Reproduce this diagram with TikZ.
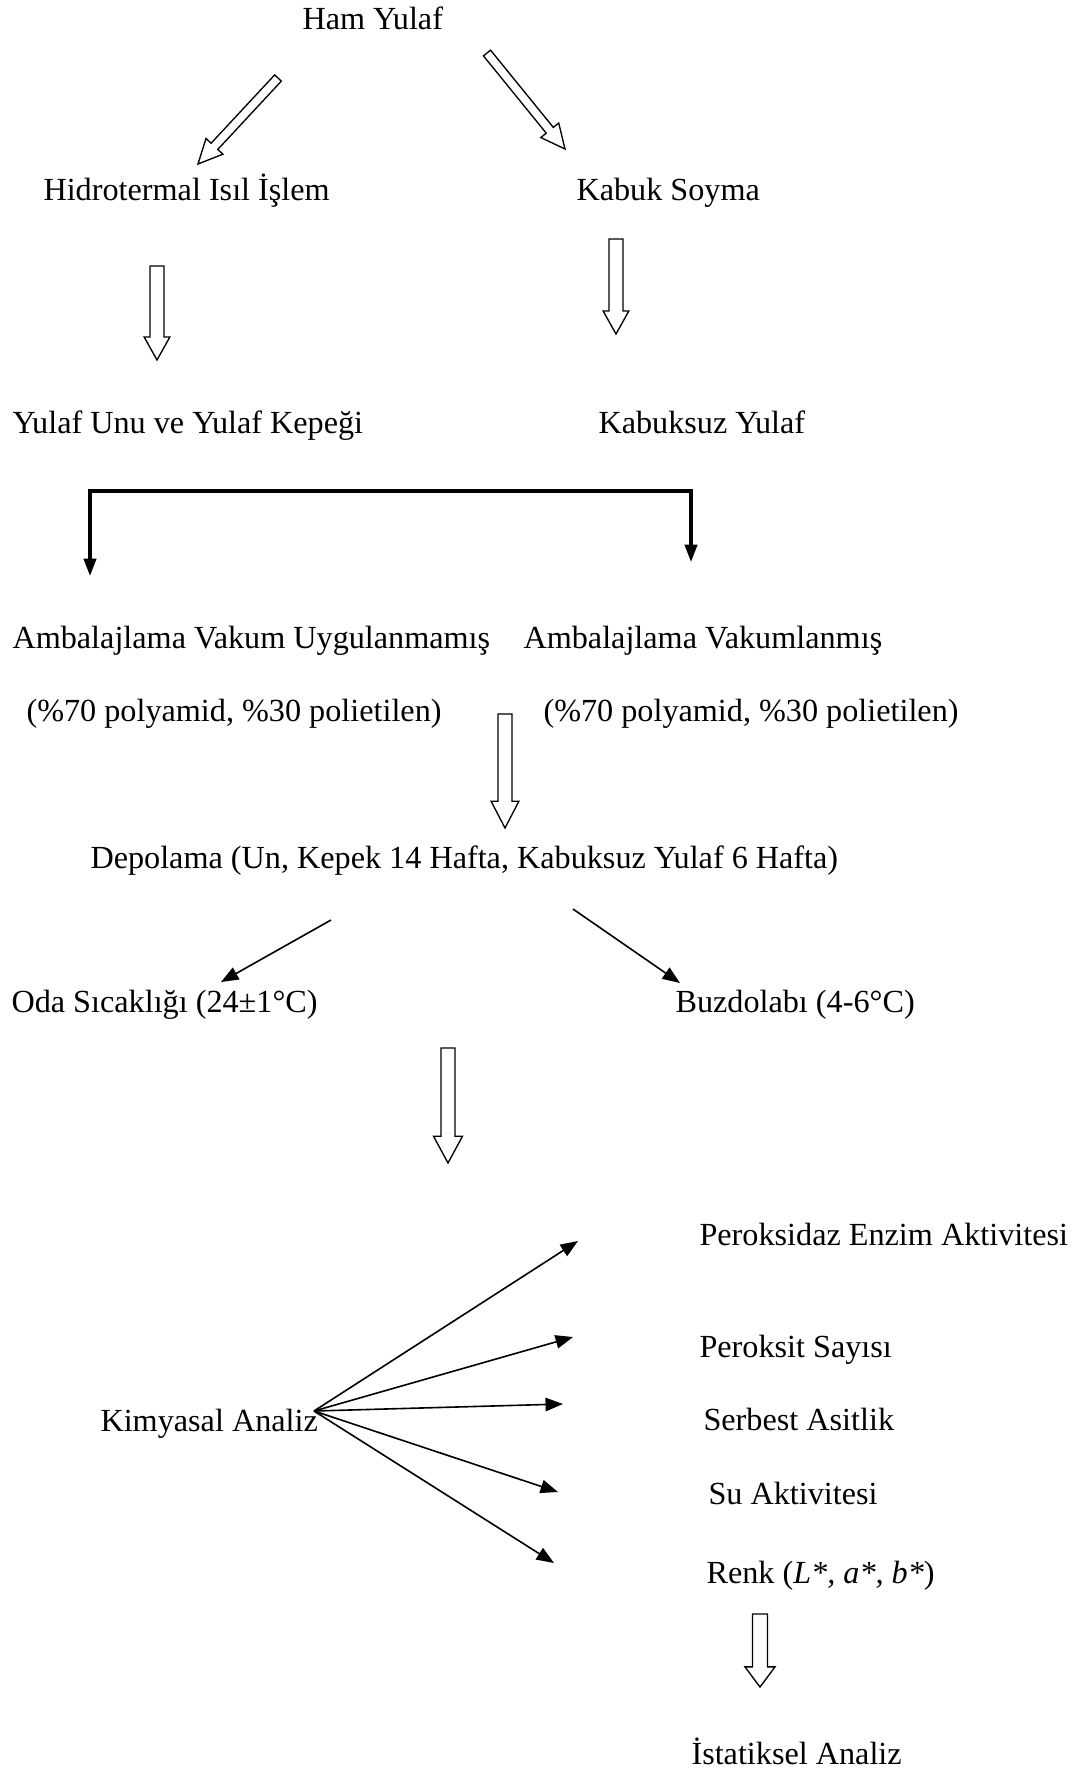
\documentclass[tikz,border=0pt]{standalone}
\usepackage{fontspec}
\setmainfont{Liberation Serif}
\usepackage{tikz}
\usetikzlibrary{arrows.meta,calc,positioning}
\tikzset{%
        lbl/.style = {anchor=base west, inner sep=0pt,
                      font=\fontsize{12pt}{14pt}\selectfont},
        thin/.style = {draw=black, line width=0.6pt,
                       -{Triangle[length=6.5pt,width=5pt]}},
        bracket/.style = {draw=black, line width=1.2pt,
                          -{Triangle[length=6.5pt,width=4.6pt]}},
        hollow/.style = {draw=black, line width=0.5pt, fill=white,
                         line join=miter}
}
% hollow block arrow: tail, tip, half shaft, half head, head length
\newcommand{\hollowarrow}[5]{%
  \coordinate (hb) at ($(#2)!#5!(#1)$);
  \draw[hollow] ($(#1)!#3!90:(#2)$) -- ($(hb)!#3!-90:(#1)$)
    -- ($(hb)!#4!-90:(#1)$) -- (#2) -- ($(hb)!#4!90:(#1)$)
    -- ($(hb)!#3!90:(#1)$) -- ($(#1)!#3!-90:(#2)$) -- cycle;
}

\begin{document}
\begin{tikzpicture}[x=0.3726pt, y=-0.3726pt]
        \useasboundingbox (0,0) rectangle (1076,1771);
        % steps
        \node[lbl] (ham)      at (302,29)   {Ham Yulaf};
        \node[lbl] (hidro)    at (43,200)   {Hidrotermal Isıl İşlem};
        \node[lbl] (kabuk)    at (576,200)  {Kabuk Soyma};
        \node[lbl] (unu)      at (12,433)   {Yulaf Unu ve Yulaf Kepeği};
        \node[lbl] (kabuksuz) at (598,433)  {Kabuksuz Yulaf};
        \node[lbl] (ambL)     at (12,648)   {Ambalajlama Vakum Uygulanmamış};
        \node[lbl] (ambR)     at (523,648)  {Ambalajlama Vakumlanmış};
        \node[lbl] (polyL)    at (26,721)   {(\%70 polyamid, \%30 polietilen)};
        \node[lbl] (polyR)    at (543,721)  {(\%70 polyamid, \%30 polietilen)};
        \node[lbl] (depo)     at (90,868)   {Depolama (Un, Kepek 14 Hafta, Kabuksuz Yulaf 6 Hafta)};
        \node[lbl] (oda)      at (11,1012)  {Oda Sıcaklığı (24±1°C)};
        \node[lbl] (buz)      at (675,1012) {Buzdolabı (4-6°C)};
        \node[lbl] (kimya)    at (100,1431) {Kimyasal Analiz};
        \node[lbl] (perox)    at (699,1245) {Peroksidaz Enzim Aktivitesi};
        \node[lbl] (sayi)     at (699,1357) {Peroksit Sayısı};
        \node[lbl] (asit)     at (703,1430) {Serbest Asitlik};
        \node[lbl] (su)       at (708,1504) {Su Aktivitesi};
        \node[lbl] (renk)     at (706,1583) {Renk (\textit{L*, a*, b*})};
        \node[lbl] (ista)     at (691,1764) {İstatiksel Analiz};

        % arrow ends
        \coordinate (a1) at (278,78);   \coordinate (b1) at (198,164);
        \coordinate (a2) at (487,53);   \coordinate (b2) at (565,149);
        \coordinate (a3) at (157,266);  \coordinate (b3) at (157,360);
        \coordinate (a4) at (616,239);  \coordinate (b4) at (616,334);
        \coordinate (a5) at (505,714);  \coordinate (b5) at (505,828);
        \coordinate (a6) at (448,1048); \coordinate (b6) at (448,1163);
        \coordinate (a7) at (760,1614); \coordinate (b7) at (760,1687);
        \coordinate (brL) at (90,491);  \coordinate (brLe) at (90,576);
        \coordinate (brR) at (691,491); \coordinate (brRe) at (691,562);
        \coordinate (dL) at (331,920);  \coordinate (oL) at (221,982);
        \coordinate (dR) at (573,909);  \coordinate (oR) at (680,983);
        \coordinate (fan) at (314,1411);

        \hollowarrow{a1}{b1}{1.7pt}{4.3pt}{9pt}
        \hollowarrow{a2}{b2}{1.7pt}{4.3pt}{9pt}
        \hollowarrow{a3}{b3}{2.6pt}{4.8pt}{8.6pt}
        \hollowarrow{a4}{b4}{2.6pt}{4.8pt}{8.6pt}
        \hollowarrow{a5}{b5}{2.6pt}{5.2pt}{10pt}
        \hollowarrow{a6}{b6}{2.6pt}{5.4pt}{10pt}
        \hollowarrow{a7}{b7}{2.8pt}{5.6pt}{7.5pt}

        \draw[bracket] (brR) -- (brL) -- (brLe);
        \draw[bracket] (brL) -- (brR) -- (brRe);

        \draw[thin] (dL) -- (oL);
        \draw[thin] (dR) -- (oR);

        \foreach \tx/\ty in {578/1241, 573/1337, 563/1404, 558/1492, 554/1563}
          \draw[thin] (fan) -- (\tx,\ty);
\end{tikzpicture}
\end{document}
